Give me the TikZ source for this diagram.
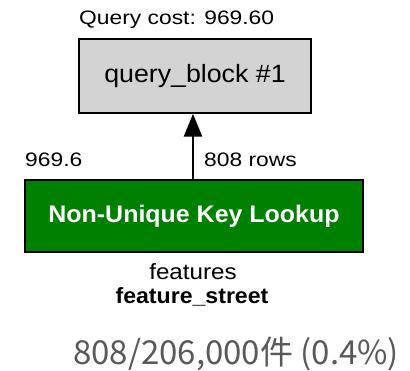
\documentclass[tikz,border=0pt]{standalone}
\usepackage{fontspec}
\setmainfont{Liberation Sans}
\newfontfamily\cjkfont{Noto Sans CJK JP}
\usetikzlibrary{arrows.meta}
\definecolor{blockgray}{HTML}{D3D3D3}
\definecolor{lookupgreen}{HTML}{008000}
\definecolor{notegray}{HTML}{595959}
\tikzset{
  plainlabel/.style={inner sep=0pt, font=\fontsize{19.5}{22}\selectfont, xscale=1.17},
  blockbox/.style={draw=black, line width=1.5pt, fill=blockgray, minimum width=232pt, minimum height=74pt,
    font=\fontsize{25}{28}\selectfont},
  lookupbox/.style={draw=black, line width=1.5pt, fill=lookupgreen, minimum width=338pt, minimum height=72pt,
    text=white, font=\bfseries\fontsize{24}{28}\selectfont},
  flow/.style={line width=2.8pt, -{Triangle[length=23pt, width=18pt]}},
}
\begin{document}
\begin{tikzpicture}[x=1pt, y=-1pt]
  \useasboundingbox (0,0) rectangle (410,371);

  % query block with its cost
  \node[blockbox] (qb) at (195,76) {\scalebox{1.07}[1]{query\_block \#1}};
  \node[plainlabel, anchor=west] (cost) at (79,20) {Query cost: 969.60};

  % table access
  \node[lookupbox] (nukl) at (194,216) {\scalebox{1.04}[1]{Non-Unique Key Lookup}};
  \node[inner sep=0pt, font=\fontsize{22}{24}\selectfont, xscale=1.1] (tbl) at (193,272) {features};
  \node[inner sep=0pt, font=\bfseries\fontsize{22}{24}\selectfont, xscale=1.05] (key) at (192,297) {feature\_street};

  % rows flowing up to the query block
  \draw[flow] (nukl.north -| 193,0) -- (qb.south -| 193,0);
  \node[plainlabel, anchor=west] (cst) at (25,160) {969.6};
  \node[plainlabel, anchor=west] (rows) at (204,160) {808 rows};

  % selectivity note
  \node[inner sep=0pt, text=notegray, font=\cjkfont\fontsize{33}{36}\selectfont, anchor=west] (note) at (73,354)
    {808/206,000件 (0.4\%)};
\end{tikzpicture}
\end{document}
